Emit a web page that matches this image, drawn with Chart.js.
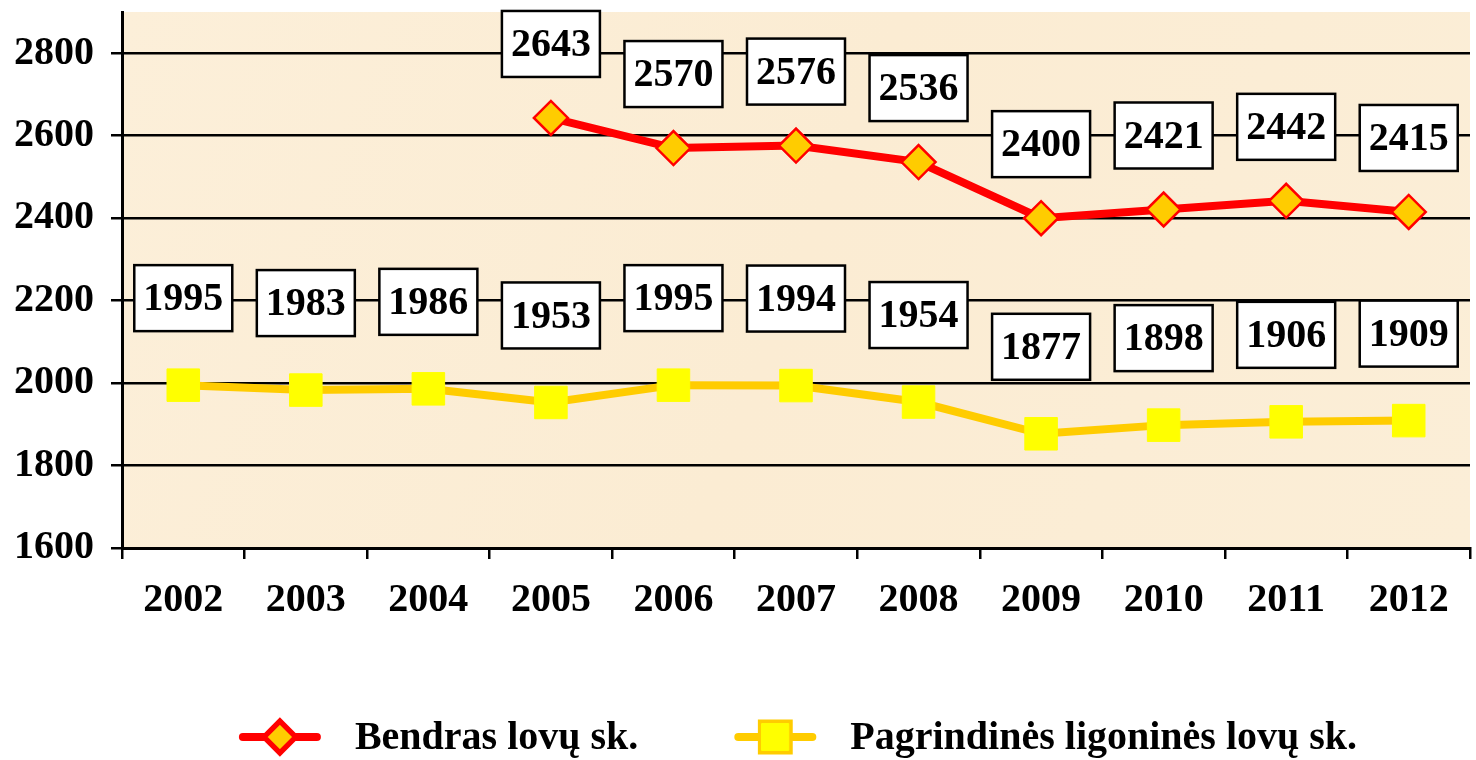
<!DOCTYPE html>
<html>
<head>
<meta charset="utf-8">
<script src="https://cdn.jsdelivr.net/npm/chart.js@4/dist/chart.umd.min.js"></script>
<style>
  html, body { margin: 0; padding: 0; background: #fff; }
  #wrap { width: 1476px; height: 760px; }
</style>
</head>
<body>
<div id="wrap"><canvas id="chart" width="1476" height="760"></canvas></div>
<script>
// Data
const years = ['2002', '2003', '2004', '2005', '2006', '2007', '2008', '2009', '2010', '2011', '2012'];
const totalBeds = [null, null, null, 2643, 2570, 2576, 2536, 2400, 2421, 2442, 2415];
const mainHospitalBeds = [1995, 1983, 1986, 1953, 1995, 1994, 1954, 1877, 1898, 1906, 1909];
const yTicks = [1600, 1800, 2000, 2200, 2400, 2600, 2800];

const FONT = '"Liberation Serif", "Times New Roman", serif';

// Beige plot background
const plotBackground = {
    id: 'plotBackground',
    beforeDraw(chart) {
        const { ctx, chartArea: a } = chart;
        ctx.save();
        const g = ctx.createLinearGradient(a.left, a.top, a.right, a.bottom);
        g.addColorStop(0, '#fcefd9');
        g.addColorStop(0.5, '#fbecd3');
        g.addColorStop(1, '#fbeed7');
        ctx.fillStyle = g;
        ctx.fillRect(a.left, a.top, a.right - a.left, a.bottom - a.top);
        ctx.restore();
    }
};

// Boxed value labels above each point
const boxLabels = {
    id: 'boxLabels',
    afterDatasetsDraw(chart) {
        const ctx = chart.ctx;
        ctx.save();
        ctx.font = 'bold 40px ' + FONT;
        ctx.textAlign = 'center';
        ctx.textBaseline = 'middle';
        chart.data.datasets.forEach((ds, i) => {
            const meta = chart.getDatasetMeta(i);
            meta.data.forEach((pt, j) => {
                const v = ds.data[j];
                if (v === null || v === undefined) return;
                const text = String(v);
                const w = ctx.measureText(text).width + 18;
                const h = 66;
                const cx = pt.x;
                const cy = pt.y - ds.labelOffset;
                ctx.fillStyle = '#ffffff';
                ctx.fillRect(cx - w / 2, cy - h / 2, w, h);
                ctx.lineWidth = 2.5;
                ctx.strokeStyle = '#000000';
                ctx.strokeRect(cx - w / 2, cy - h / 2, w, h);
                ctx.fillStyle = '#000000';
                ctx.fillText(text, cx, cy + 2);
            });
        });
        ctx.restore();
    }
};

// Legend at the bottom: line with marker, then label
const bottomLegend = {
    id: 'bottomLegend',
    afterDraw(chart) {
        const ctx = chart.ctx;
        const y = 737;
        const symW = 74, gap = 38, itemGap = 100;
        ctx.save();
        ctx.font = 'bold 40px ' + FONT;
        ctx.textBaseline = 'middle';
        const items = chart.data.datasets.map(ds => ({ ds, tw: ctx.measureText(ds.label).width }));
        let total = 0;
        items.forEach((it, i) => { total += symW + gap + it.tw + (i ? itemGap : 0); });
        let x = 800 - total / 2;
        items.forEach((it, i) => {
            if (i) x += itemGap;
            const ds = it.ds;
            ctx.strokeStyle = ds.borderColor;
            ctx.lineWidth = 8;
            ctx.lineCap = 'round';
            ctx.beginPath();
            ctx.moveTo(x, y);
            ctx.lineTo(x + symW, y);
            ctx.stroke();
            Chart.helpers.drawPoint(ctx, {
                pointStyle: ds.pointStyle,
                radius: ds.legendRadius,
                borderWidth: ds.pointBorderWidth,
                rotation: 0
            }, x + symW / 2, y);
            ctx.fillStyle = ds.pointBackgroundColor;
            ctx.strokeStyle = ds.pointBorderColor;
            ctx.lineWidth = ds.pointBorderWidth;
            ctx.fill();
            ctx.stroke();
            x += symW + gap;
            ctx.fillStyle = '#000';
            ctx.fillText(ds.label, x, y + 2);
            x += it.tw;
        });
        ctx.restore();
    }
};

new Chart(document.getElementById('chart'), {
    type: 'line',
    data: {
        labels: years,
        datasets: [
            {
                label: 'Bendras lovų sk.',
                data: totalBeds,
                borderColor: '#ff0000',
                borderWidth: 8,
                pointStyle: 'rectRot',
                pointRadius: 17,
                pointBackgroundColor: '#ffcc00',
                pointBorderColor: '#ff0000',
                pointBorderWidth: 2.5,
                legendRadius: 14,
                labelOffset: 74,
                tension: 0,
                spanGaps: false,
            },
            {
                label: 'Pagrindinės ligoninės lovų sk.',
                data: mainHospitalBeds,
                borderColor: '#ffcc00',
                borderWidth: 8,
                pointStyle: 'rect',
                pointRadius: 23,
                pointBackgroundColor: '#ffff00',
                pointBorderColor: '#ffff00',
                pointBorderWidth: 1,
                legendRadius: 19,
                labelOffset: 87,
                tension: 0,
            }
        ]
    },
    options: {
        responsive: false,
        animation: false,
        layout: { autoPadding: false, padding: { top: 12, right: 6, left: 0, bottom: 142 } },
        plugins: {
            legend: { display: false },
            tooltip: { enabled: false },
        },
        scales: {
            x: {
                offset: true,
                grid: { offset: true, drawOnChartArea: false, color: '#000', lineWidth: 2.5, tickLength: 11 },
                border: { color: '#000', width: 3 },
                ticks: { color: '#000', font: { family: FONT, size: 40, weight: 'bold' }, padding: 18, maxRotation: 0 },
                afterFit: s => { s.height = 70; s.paddingLeft = 0; s.paddingRight = 0; },
            },
            y: {
                min: 1600,
                max: 2900,
                afterBuildTicks: s => { s.ticks = yTicks.map(v => ({ value: v })); },
                grid: { color: '#000', lineWidth: 2.5, tickLength: 11 },
                border: { color: '#000', width: 3 },
                ticks: {
                    color: '#000',
                    font: { family: FONT, size: 40, weight: 'bold' },
                    padding: 17,
                    callback: v => String(v),
                },
                afterFit: s => { s.width = 122; s.paddingTop = 0; s.paddingBottom = 0; },
            }
        }
    },
    plugins: [plotBackground, boxLabels, bottomLegend]
});
</script>
</body>
</html>
